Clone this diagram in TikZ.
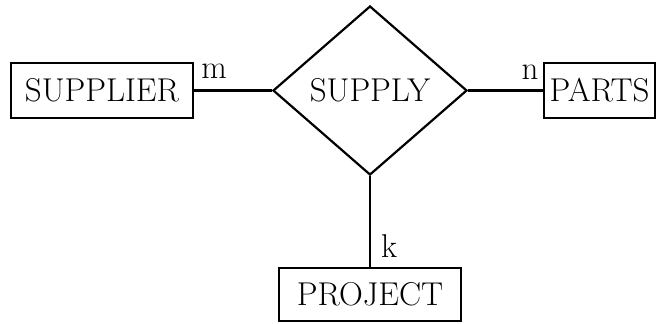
\documentclass[tikz,border=0pt]{standalone}
\usetikzlibrary{shapes.geometric}

\begin{document}
\begin{tikzpicture}[x=0.5pt,y=-0.5pt,line width=1.1pt,
	every node/.style={inner sep=0pt,font=\fontsize{16.5}{19}\selectfont},
	entity/.style={draw,rectangle,minimum width=91pt,minimum height=27.5pt},
	relation/.style={draw,diamond,minimum width=97pt,minimum height=84.5pt}]
	\useasboundingbox (0,0) rectangle (656,323);
	\node [entity] (supplier) at (102,90.5) {SUPPLIER};
	\node [relation] (supply) at (370,90.5) {SUPPLY};
	\node [entity,minimum width=55.5pt] (parts) at (599.5,90.5) {PARTS};
	\node [entity,minimum height=26.5pt] (project) at (370,294.5) {PROJECT};
	\draw (supplier.east) -- (supply.west);
	\draw (supply.east) -- (parts.west);
	\draw (supply.south) -- (project.north);
	\node (m) at (214,71) {m};
	\node (n) at (530,72) {n};
	\node (k) at (389,246) {k};
\end{tikzpicture}
\end{document}
